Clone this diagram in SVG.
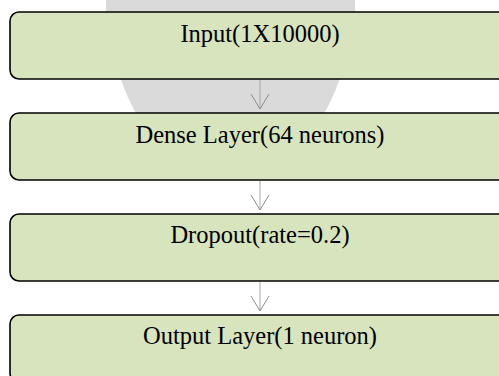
<svg xmlns="http://www.w3.org/2000/svg" width="499" height="376" viewBox="0 0 499 376">
<style>
.box{fill:#d7e4bd;stroke:#000;stroke-width:1.6}
.lbl{font-family:"Liberation Serif","Times New Roman",serif;font-size:24.5px;fill:#000;text-anchor:middle}
.conn{stroke:#a6a6a6;stroke-width:1;fill:none}
</style>
<defs>
<marker id="arr" markerWidth="20" markerHeight="20" refX="19" refY="10" markerUnits="userSpaceOnUse" orient="auto" viewBox="0 0 20 20">
<path d="M4,1 L19,10 L4,19" fill="none" stroke="#8c8c8c" stroke-width="1"/>
</marker>
</defs>
<rect width="499" height="376" fill="#fff"/>
<path id="watermark" d="M106,0 L355,0 L355,12 C345,100 300,178 230,178 C160,178 115,100 106,12 Z" fill="#dadada"/>
<g id="n1"><rect class="box" x="10" y="12" width="502" height="67" rx="9"/><text class="lbl" x="260" y="42">Input(1X10000)</text></g>
<g id="n2"><rect class="box" x="10" y="113" width="502" height="67" rx="9"/><text class="lbl" x="260" y="143">Dense Layer(64 neurons)</text></g>
<g id="n3"><rect class="box" x="10" y="214" width="502" height="67" rx="9"/><text class="lbl" x="260" y="243">Dropout(rate=0.2)</text></g>
<g id="n4"><rect class="box" x="10" y="315" width="502" height="67" rx="9"/><text class="lbl" x="260" y="344">Output Layer(1 neuron)</text></g>
<g id="connectors">
<line class="conn" x1="260" y1="80" x2="260" y2="109" marker-end="url(#arr)"/>
<line class="conn" x1="260" y1="181" x2="260" y2="210" marker-end="url(#arr)"/>
<line class="conn" x1="260" y1="282" x2="260" y2="311" marker-end="url(#arr)"/>
</g>
</svg>
